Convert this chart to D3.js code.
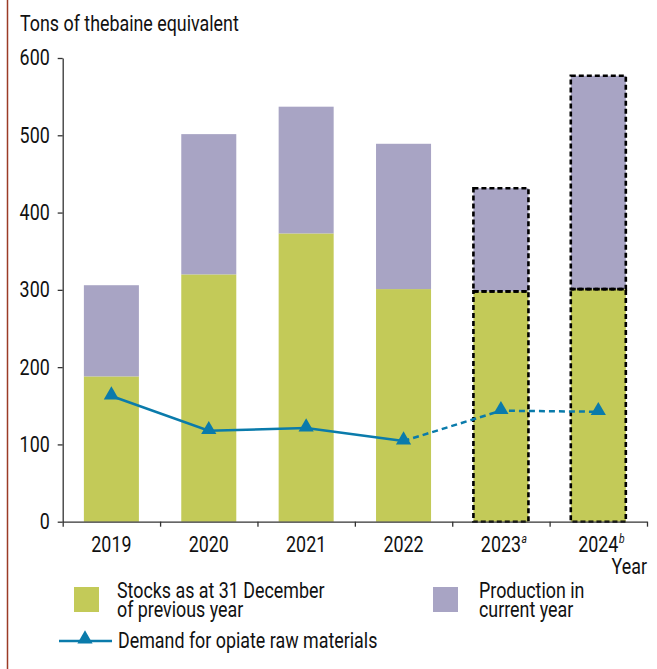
<!DOCTYPE html>
<html>
<head>
<meta charset="utf-8">
<script src="https://cdn.jsdelivr.net/npm/d3@7"></script>
<style>
  html, body { margin: 0; padding: 0; background: #fff; }
  svg { display: block; }
  text { font-family: Roboto, "Liberation Sans", sans-serif; fill: #111; }
</style>
</head>
<body>
<script>
const years = ["2019", "2020", "2021", "2022", "2023", "2024"];
const yearSup = ["", "", "", "", "a", "b"];
const stocks = [188, 320, 373, 301, 298, 301];
const production = [118, 181.5, 164, 188, 133.5, 276];
const demand = [162.6, 117.8, 121.2, 104.4, 143.6, 142.3];
const projected = [false, false, false, false, true, true];
const yTicks = [0, 100, 200, 300, 400, 500, 600];

const W = 657, H = 669;
const green = "#c3ca58", purple = "#a8a4c4", blue = "#0a7bab", axisCol = "#333";
const FS = 21.5;

const svg = d3.select("body").append("svg").attr("width", W).attr("height", H);

// condensed look: measure title and derive a horizontal scale
const probe = svg.append("text").attr("font-size", FS).text("Tons of thebaine equivalent");
const SX = 219 / probe.node().getComputedTextLength();
probe.remove();

function addText(parent, x, y, lines, anchor, lh) {
  const t = parent.append("text")
    .attr("transform", `translate(${x},${y}) scale(${SX},1)`)
    .attr("font-size", FS).attr("text-anchor", anchor || "start");
  [].concat(lines).forEach((s, i) => {
    t.append("tspan").attr("x", 0).attr("dy", i === 0 ? 0 : (lh || 19)).text(s);
  });
  return t;
}

// left border
svg.append("line").attr("x1", 7.5).attr("x2", 7.5).attr("y1", 0).attr("y2", H)
  .attr("stroke", "#9b3b26").attr("stroke-width", 1.5);

const pLeft = 62.7, pRight = 647, pTop = 58, pBottom = 521.7;
const x = d3.scaleBand().domain(years).range([pLeft, pRight]).padding(0);
const y = d3.scaleLinear().domain([0, 600]).range([pBottom, pTop]);
const bw = x.bandwidth() * 0.565;
const bx = d => x(d) + (x.bandwidth() - bw) / 2;

// title
addText(svg, 20, 31, "Tons of thebaine equivalent");

// bars
const data = years.map((yr, i) => ({ yr, s: stocks[i], p: production[i], proj: projected[i] }));
const g = svg.append("g");
g.selectAll("rect.stock").data(data).join("rect")
  .attr("x", d => bx(d.yr)).attr("width", bw)
  .attr("y", d => y(d.s)).attr("height", d => y(0) - y(d.s))
  .attr("fill", green);
g.selectAll("rect.prod").data(data).join("rect")
  .attr("x", d => bx(d.yr)).attr("width", bw)
  .attr("y", d => y(d.s + d.p)).attr("height", d => y(d.s) - y(d.s + d.p))
  .attr("fill", purple);
const pd = data.filter(d => d.proj);
g.selectAll("rect.o1").data(pd).join("rect")
  .attr("x", d => bx(d.yr)).attr("width", bw)
  .attr("y", d => y(d.s)).attr("height", d => y(0) - y(d.s))
  .attr("fill", "none").attr("stroke", "#000").attr("stroke-width", 2.6).attr("stroke-dasharray", "5,3");
g.selectAll("rect.o2").data(pd).join("rect")
  .attr("x", d => bx(d.yr)).attr("width", bw)
  .attr("y", d => y(d.s + d.p)).attr("height", d => y(d.s) - y(d.s + d.p))
  .attr("fill", "none").attr("stroke", "#000").attr("stroke-width", 2.6).attr("stroke-dasharray", "5,3");

// y axis
const yAx = svg.append("g").attr("transform", `translate(${pLeft},0)`)
  .call(d3.axisLeft(y).tickValues(yTicks).tickSize(5).tickSizeOuter(0).tickPadding(8));
yAx.attr("font-family", null).attr("font-size", null);
yAx.selectAll("text").attr("font-size", FS).attr("fill", "#111")
  .attr("x", -13 / SX).attr("transform", `scale(${SX},1)`);
yAx.selectAll("line, path").attr("stroke", axisCol).attr("stroke-width", 1.3);

// x axis: ticks at category boundaries
const xb = d3.scaleLinear().domain([0, years.length]).range([pLeft, pRight]);
const xAx = svg.append("g").attr("transform", `translate(0,${pBottom})`)
  .call(d3.axisBottom(xb).ticks(years.length).tickFormat("").tickSize(5).tickSizeOuter(0));
xAx.selectAll("line, path").attr("stroke", axisCol).attr("stroke-width", 1.3);

// x labels
const xl = svg.append("g");
years.forEach((yr, i) => {
  const cx = x(yr) + x.bandwidth() / 2;
  const t = addText(xl, cx, 552, yr, "middle");
  if (yearSup[i]) {
    const w = t.node().getComputedTextLength() * SX;
    xl.append("text").attr("transform", `translate(${cx + w / 2 + 0.5},543) scale(${SX},1)`)
      .attr("font-size", 12.5).attr("font-style", "italic").text(yearSup[i]);
  }
});
addText(svg, 647, 574, "Year", "end");

// demand line
const lx = i => x(years[i]) + x.bandwidth() / 2;
const line = d3.line().x(d => lx(d.i)).y(d => y(d.v));
const pts = demand.map((v, i) => ({ v, i }));
svg.append("path").datum(pts.slice(0, 4)).attr("d", line)
  .attr("fill", "none").attr("stroke", blue).attr("stroke-width", 2.5);
svg.append("path").datum(pts.slice(3)).attr("d", line)
  .attr("fill", "none").attr("stroke", blue).attr("stroke-width", 2.5).attr("stroke-dasharray", "6,4");
const tri = d3.symbol().type(d3.symbolTriangle).size(100);
svg.selectAll("path.mk").data(pts).join("path")
  .attr("transform", d => `translate(${lx(d.i)},${y(d.v) - 1})`)
  .attr("d", tri).attr("fill", blue);

// legend
const lg = svg.append("g");
lg.append("rect").attr("x", 74).attr("y", 587).attr("width", 25).attr("height", 25).attr("fill", green);
addText(lg, 117, 598, ["Stocks as at 31 December", "of previous year"]);
lg.append("rect").attr("x", 433).attr("y", 587).attr("width", 25).attr("height", 25).attr("fill", purple);
addText(lg, 479, 598, ["Production in", "current year"]);
lg.append("line").attr("x1", 59).attr("x2", 112).attr("y1", 641).attr("y2", 641).attr("stroke", blue).attr("stroke-width", 2.5);
lg.append("path").attr("transform", "translate(85,639)").attr("d", tri).attr("fill", blue);
addText(lg, 118, 648, "Demand for opiate raw materials");
</script>
</body>
</html>
